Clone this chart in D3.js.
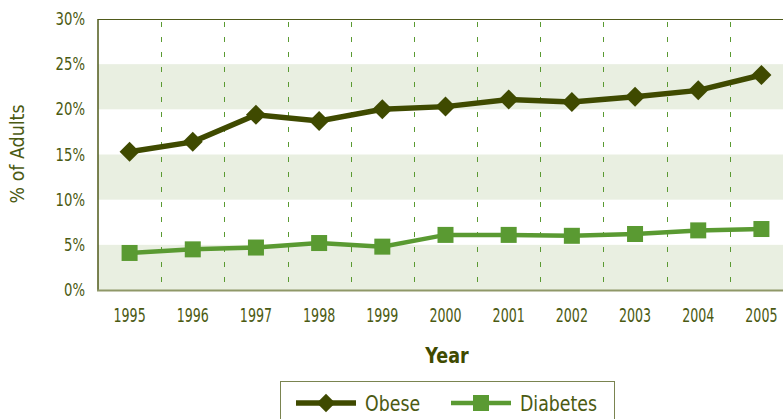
<!DOCTYPE html>
<html><head><meta charset="utf-8">
<script src="https://cdn.jsdelivr.net/npm/d3@7"></script>
<style>body{margin:0;background:#fff}svg{display:block}</style>
</head><body>
<svg id="c" width="783" height="419"></svg>
<script>
const years = ["1995","1996","1997","1998","1999","2000","2001","2002","2003","2004","2005"];
const obese = [15.3,16.4,19.4,18.7,20.0,20.3,21.1,20.8,21.4,22.1,23.8];
const diabetes = [4.1,4.5,4.7,5.2,4.8,6.1,6.1,6.0,6.2,6.6,6.75];
const yTicks = [0,5,10,15,20,25,30];
const bands = [[0,5],[10,15],[20,25]];

const FONT = "'DejaVu Sans Condensed','Liberation Sans',sans-serif";
const TXT = "#4b5a12", DARK = "#3f4a00", GREEN = "#5a9a32", BAND = "#e9efe1";
const svg = d3.select("#c");
const L = 98, R = 793, T = 19, B = 290;
const x = d3.scaleBand().domain(years).range([L, R]);
const y = d3.scaleLinear().domain([0,30]).range([B, T]);

svg.selectAll("rect.band").data(bands).join("rect")
  .attr("x", L).attr("width", R - L)
  .attr("y", d => y(d[1])).attr("height", d => y(d[0]) - y(d[1]))
  .attr("fill", BAND);

svg.selectAll("line.vg").data(years.slice(1)).join("line")
  .attr("x1", d => Math.round(x(d)) + 0.5).attr("x2", d => Math.round(x(d)) + 0.5)
  .attr("y1", T).attr("y2", B)
  .attr("stroke", GREEN).attr("stroke-width", 1).attr("stroke-dasharray", "5,10")
  .attr("stroke-dashoffset", -3);

svg.append("line").attr("x1", L).attr("x2", 783).attr("y1", T + 0.5).attr("y2", T + 0.5)
  .attr("stroke", "#4f5a1a").attr("stroke-width", 1.2);
svg.append("line").attr("x1", L).attr("x2", L).attr("y1", T).attr("y2", B)
  .attr("stroke", "#4f5a1a").attr("stroke-width", 1.5);
svg.append("line").attr("x1", L - 1).attr("x2", 783).attr("y1", B + 0.5).attr("y2", B + 0.5)
  .attr("stroke", "#8f9868").attr("stroke-width", 2.2);

function txt(sel, px, py, sx, size, anchor, s, weight, color) {
  return sel.append("text")
    .attr("transform", `translate(${px},${py}) scale(${sx},1)`)
    .attr("text-anchor", anchor).attr("fill", color || TXT)
    .style("font-family", FONT).style("font-size", size + "px")
    .style("font-weight", weight || "normal").text(s);
}

yTicks.forEach(d => txt(svg, 85, y(d) + 6, 0.84, 17.5, "end", d + "%"));
years.forEach(d => txt(svg, x(d) + x.bandwidth() / 2, 322, 0.74, 19, "middle", d));

svg.append("text").attr("transform", "translate(24,154) rotate(-90) scale(0.97,1)")
  .attr("text-anchor", "middle").attr("fill", TXT)
  .style("font-family", FONT).style("font-size", "20px").text("% of Adults");
txt(svg, 447, 363, 0.93, 21, "middle", "Year", "bold", DARK);

const cx = d => x(d) + x.bandwidth() / 2;
const line = d3.line().x((v, i) => cx(years[i])).y(v => y(v));

svg.append("path").datum(diabetes).attr("d", line)
  .attr("fill", "none").attr("stroke", GREEN).attr("stroke-width", 4.5);
svg.selectAll("rect.sq").data(diabetes).join("rect")
  .attr("x", (v, i) => cx(years[i]) - 8).attr("y", v => y(v) - 8)
  .attr("width", 16).attr("height", 16).attr("fill", GREEN);

svg.append("path").datum(obese).attr("d", line)
  .attr("fill", "none").attr("stroke", DARK).attr("stroke-width", 5.5);
const diamond = d3.symbol().type(d3.symbolSquare).size(200);
svg.selectAll("path.dm").data(obese).join("path")
  .attr("d", diamond)
  .attr("transform", (v, i) => `translate(${cx(years[i])},${y(v)}) rotate(45)`)
  .attr("fill", DARK);

const lg = svg.append("g");
lg.append("rect").attr("x", 280.5).attr("y", 381.5).attr("width", 334).attr("height", 50)
  .attr("fill", "#fff").attr("stroke", "#7a8450").attr("stroke-width", 1);
const items = [
  {name: "Obese", color: DARK, x0: 296, shape: "d"},
  {name: "Diabetes", color: GREEN, x0: 451, shape: "s"}
];
items.forEach(it => {
  lg.append("line").attr("x1", it.x0).attr("x2", it.x0 + 60).attr("y1", 403).attr("y2", 403)
    .attr("stroke", it.color).attr("stroke-width", it.shape === "d" ? 5.5 : 4.5);
  if (it.shape === "d") {
    lg.append("path").attr("d", d3.symbol().type(d3.symbolSquare).size(170)())
      .attr("transform", `translate(${it.x0 + 30},403) rotate(45)`).attr("fill", it.color);
  } else {
    lg.append("rect").attr("x", it.x0 + 30 - 8).attr("y", 403 - 8).attr("width", 16).attr("height", 16)
      .attr("fill", it.color);
  }
  txt(lg, it.x0 + 69, 411, 0.92, 21, "start", it.name);
});
</script>
</body></html>
